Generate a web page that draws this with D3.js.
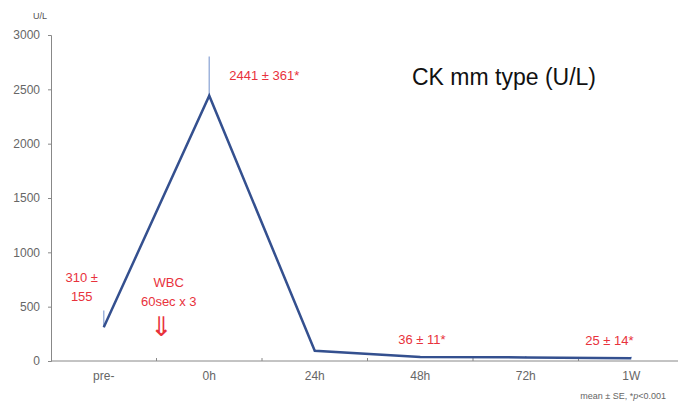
<!DOCTYPE html>
<html>
<head>
<meta charset="utf-8">
<script src="https://cdn.jsdelivr.net/npm/d3@7"></script>
<style>
  body { margin: 0; background: #fff; }
  svg { font-family: 'Liberation Sans', Arial, sans-serif; }
</style>
</head>
<body>
<svg id="chart" width="678" height="405"></svg>
<script>
const categories = ['pre-', '0h', '24h', '48h', '72h', '1W']
const means = [310, 2441, 95, 36, 33, 25]
const errors = [155, 361, 10, 11, 12, 14]
const yTicks = [0, 500, 1000, 1500, 2000, 2500, 3000]

const margin = { top: 35, right: -6, bottom: 44, left: 51 }
const width = 678 - margin.left - margin.right
const height = 405 - margin.top - margin.bottom

const svg = d3.select('#chart')
const g = svg.append('g')
  .attr('transform', 'translate(' + margin.left + ',' + margin.top + ')')

const x = d3.scaleBand().domain(categories).range([0, width])
const y = d3.scaleLinear().domain([0, 3000]).range([height, 0])

// Y axis
const yAxis = g.append('g')
  .call(d3.axisLeft(y).tickValues(yTicks).tickFormat(d3.format('d')).tickSize(3).tickPadding(8))
yAxis.selectAll('text').attr('fill', '#666').style('font-size', '12px')
yAxis.selectAll('line, path').attr('stroke', '#888')

// X axis, ticks on band edges
const xAxis = g.append('g').attr('transform', 'translate(0,' + height + ')')
xAxis.append('line').attr('x1', 0).attr('x2', width).attr('stroke', '#888')
xAxis.selectAll('.edge')
  .data(categories.slice(1))
  .enter()
  .append('line')
  .attr('x1', d => x(d)).attr('x2', d => x(d))
  .attr('y1', 0).attr('y2', -3)
  .attr('stroke', '#888')
xAxis.selectAll('.lab')
  .data(categories)
  .enter()
  .append('text')
  .attr('x', d => x(d) + x.bandwidth() / 2)
  .attr('y', 19)
  .attr('text-anchor', 'middle')
  .attr('fill', '#666')
  .style('font-size', '12px')
  .text(d => d)

const cx = (d, i) => x(categories[i]) + x.bandwidth() / 2

// error bars (upper only)
g.selectAll('.err')
  .data(means)
  .enter()
  .append('line')
  .attr('x1', cx).attr('x2', cx)
  .attr('y1', d => y(d))
  .attr('y2', (d, i) => y(d + errors[i]))
  .attr('stroke', '#9fb4dc')
  .attr('stroke-width', 1.5)

// mean line
const line = d3.line().x((d, i) => cx(d, i)).y(d => y(d))
g.append('path')
  .datum(means)
  .attr('d', line)
  .attr('fill', 'none')
  .attr('stroke', '#34508f')
  .attr('stroke-width', 2.5)

// annotations
const red = '#e8323c'
function note(tx, ty, txt, anchor, size) {
  svg.append('text')
    .attr('x', tx).attr('y', ty)
    .attr('text-anchor', anchor || 'start')
    .attr('fill', red)
    .style('font-size', (size || 13) + 'px')
    .text(txt)
}
const px = i => margin.left + cx(0, i)
const py = v => margin.top + y(v)
note(px(0) - 22, py(means[0]) - 45, '310 ±', 'middle')
note(px(0) - 22, py(means[0]) - 26, '155', 'middle')
note(px(0) + 65, py(means[0]) - 40, 'WBC', 'middle')
note(px(0) + 65, py(means[0]) - 21, '60sec x 3', 'middle')
note(px(0) + 58, py(means[0]) + 9, '⇓', 'middle', 27)
note(px(1) + 20, py(means[1]) - 16, '2441 ± 361*')
note(px(3) - 22, py(means[3]) - 13, '36 ± 11*')
note(px(5) - 46, py(means[5]) - 13, '25 ± 14*')

svg.append('text')
  .attr('x', 412).attr('y', 85)
  .attr('fill', '#111')
  .style('font-size', '23px')
  .text('CK mm type (U/L)')

svg.append('text')
  .attr('x', 33).attr('y', 19)
  .attr('fill', '#555')
  .style('font-size', '9px')
  .text('U/L')

const foot = svg.append('text')
  .attr('x', 666).attr('y', 399)
  .attr('text-anchor', 'end')
  .attr('fill', '#666')
  .style('font-size', '9px')
foot.append('tspan').text('mean ± SE, *')
foot.append('tspan').style('font-style', 'italic').text('p')
foot.append('tspan').text('<0.001')
</script>
</body>
</html>
